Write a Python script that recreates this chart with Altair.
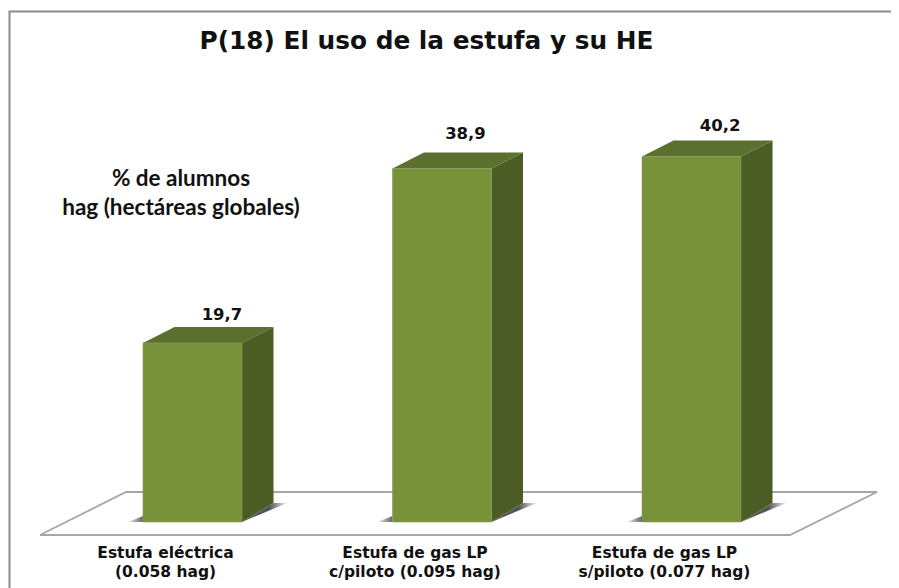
import altair as alt
import pandas as pd

categories = ["Estufa eléctrica", "Estufa de gas LP\nc/piloto", "Estufa de gas LP\ns/piloto"]
axis_labels = ["Estufa eléctrica\n(0.058 hag)", "Estufa de gas LP\nc/piloto (0.095 hag)", "Estufa de gas LP\ns/piloto (0.077 hag)"]
values = [19.7, 38.9, 40.2]
value_labels = ["19,7", "38,9", "40,2"]
title_text = "P(18) El uso de la estufa y su HE"
note_text = "% de alumnos\nhag (hectáreas globales)"

# Layout: the plot is 883 x 580 px and starts at the page margin (8, 8).
W, H = 883, 580
PX_X = 249.5          # px per category step
PX_Y = 9.09           # px per percentage point
X0, Y0 = 192.5, 522   # page position of category 0 centre and of value 0
def ux(px): return (px - X0) / PX_X       # page x -> x units
def uy(py): return (Y0 - py) / PX_Y       # page y -> value units
dom_x = [ux(8), ux(8 + W)]
dom_y = [uy(8 + H), uy(8)]

HALF = 49.5 / PX_X
DX = 31.5 / PX_X
DY_TOP = 16 / PX_Y
DY_BOT = 19 / PX_Y
LIFT = [7, 13, 10]       # px between a bar's back edge and its label
SHIFT = [29.5, 23.5, 28.7]  # px between a bar's centre and its label
AXIS_SHIFT = -27 / PX_X

x_scale = alt.Scale(domain=dom_x, nice=False, zero=False)
y_scale = alt.Scale(domain=dom_y, nice=False, zero=False)
X = lambda f: alt.X(f, type="quantitative", scale=x_scale, axis=None)
Y = lambda f: alt.Y(f, type="quantitative", scale=y_scale, axis=None)

front, side, top, shadow_r, shadow_l, labels, ticks = [], [], [], [], [], [], []
for i, (c, v) in enumerate(zip(categories, values)):
    l, r = i - HALF, i + HALF
    front.append(dict(cat=c, x=l, x2=r, y=0, y2=v))
    side += [dict(cat=c, x=r, y=0, y2=v), dict(cat=c, x=r + DX, y=DY_BOT, y2=v + DY_TOP)]
    top += [dict(cat=c, yy=v, xa=l, xb=r), dict(cat=c, yy=v + DY_TOP, xa=l + DX, xb=r + DX)]
    shadow_r += [dict(cat=c, x=r, y=0, y2=0),
                 dict(cat=c, x=r + DX, y=DY_BOT * 0.7, y2=DY_BOT),
                 dict(cat=c, x=r + DX + 14 / PX_X, y=DY_BOT, y2=DY_BOT)]
    shadow_l += [dict(cat=c, x=l - 15 / PX_X, y=0, y2=0),
                 dict(cat=c, x=l, y=0, y2=6 / PX_Y)]
    labels.append(dict(x=i + SHIFT[i] / PX_X, y=v + DY_TOP + LIFT[i] / PX_Y, t=value_labels[i]))
    ticks.append(dict(x=i + AXIS_SHIFT, y=uy(558), t=axis_labels[i]))

floor = pd.DataFrame([
    dict(o=0, x=ux(40), y=uy(535)), dict(o=1, x=ux(126), y=uy(492)),
    dict(o=2, x=ux(877), y=uy(492)), dict(o=3, x=ux(790), y=uy(535)),
    dict(o=4, x=ux(40), y=uy(535)),
])
frame = pd.DataFrame([
    dict(o=0, x=ux(9.5), y=uy(588)), dict(o=1, x=ux(9.5), y=uy(11.5)),
    dict(o=2, x=ux(891), y=uy(11.5)),
])

floor_l = alt.Chart(floor).mark_line(color="#a6a6a6", strokeWidth=1.8).encode(
    x=X("x"), y=Y("y"), order="o:Q")
frame_l = alt.Chart(frame).mark_line(color="#8c8c8c", strokeWidth=2).encode(
    x=X("x"), y=Y("y"), order="o:Q")

def grad(x1, x2, c1, c2):
    return alt.Gradient(gradient="linear", x1=x1, x2=x2, y1=0, y2=0,
                        stops=[alt.GradientStop(color=c1, offset=0), alt.GradientStop(color=c2, offset=1)])

shadow_r_l = alt.Chart(pd.DataFrame(shadow_r)).mark_area(
    color=grad(0.6, 1, "#555555", "#f4f4f4")).encode(
    x=X("x"), y=Y("y"), y2="y2", detail="cat:N")
shadow_l_l = alt.Chart(pd.DataFrame(shadow_l)).mark_area(
    color=grad(0, 1, "#eeeeee", "#666666")).encode(
    x=X("x"), y=Y("y"), y2="y2", detail="cat:N")

side_l = alt.Chart(pd.DataFrame(side)).mark_area(color="#4c5c25").encode(
    x=X("x"), y=Y("y"), y2="y2", detail="cat:N")
top_l = alt.Chart(pd.DataFrame(top)).mark_area(color="#5b6f2e", orient="horizontal").encode(
    y=Y("yy"), x=X("xa"), x2="xb", detail="cat:N")
front_l = alt.Chart(pd.DataFrame(front)).mark_rect(
    color="#78923a", stroke="#869a5c", strokeWidth=0.6).encode(
    x=X("x"), x2="x2", y=Y("y"), y2="y2")

value_t = alt.Chart(pd.DataFrame(labels)).mark_text(
    font="DejaVu Sans", fontWeight="bold", fontSize=16.5, color="#111111", baseline="alphabetic").encode(
    x=X("x"), y=Y("y"), text="t:N")
axis_t = alt.Chart(pd.DataFrame(ticks)).mark_text(
    font="DejaVu Sans", fontWeight="bold", fontSize=15.5, color="#111111", baseline="alphabetic",
    lineBreak="\n", lineHeight=18.5).encode(
    x=X("x"), y=Y("y"), text="t:N")
note_t = alt.Chart(pd.DataFrame([dict(x=ux(181), y=uy(186), t=note_text)])).mark_text(
    font="Lato", fontWeight="bold", fontSize=22.5, color="#111111", baseline="alphabetic",
    lineBreak="\n", lineHeight=29).encode(
    x=X("x"), y=Y("y"), text="t:N")

chart = alt.layer(
    frame_l, floor_l, shadow_r_l, shadow_l_l, side_l, top_l, front_l, value_t, axis_t, note_t
).properties(
    width=W, height=H,
    title=alt.TitleParams(title_text, font="DejaVu Sans", fontWeight="bold", fontSize=24.8,
                          color="#111111", anchor="middle", frame="group", offset=-46, dx=-23),
    padding=0,
    autosize=alt.AutoSizeParams(type="none"),
    background="white",
).configure_view(stroke=None)

chart.save("out.html", embed_options={"renderer": "svg", "actions": False})
